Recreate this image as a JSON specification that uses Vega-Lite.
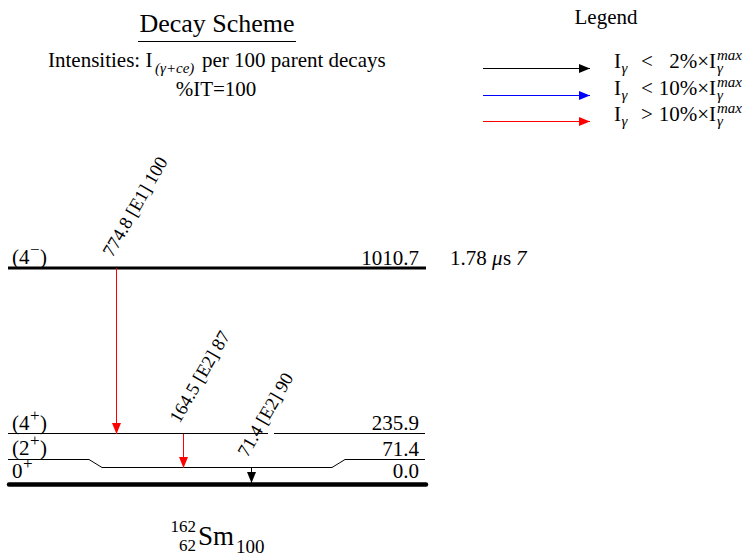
{
  "$schema": "https://vega.github.io/schema/vega-lite/v6.json",
  "width": 750,
  "height": 557,
  "autosize": {"type": "fit", "contains": "padding"},
  "padding": 0,
  "background": "white",
  "config": {"view": {"stroke": null}, "text": {"font": "Liberation Serif", "color": "black"}},
  "datasets": {
    "underline": [{"x": 138, "x2": 296, "y": 41.5}],
    "thickTop": [{"x": 8, "x2": 426, "y": 268, "level": "1010.7"}],
    "thickGround": [{"x": 9, "x2": 426, "y": 484.5, "level": "0.0"}],
    "thinLevels": [
      {"x": 8, "y": 433.5, "x2": 268, "y2": 433.5, "level": "235.9"},
      {"x": 274, "y": 433.5, "x2": 425, "y2": 433.5, "level": "235.9"},
      {"x": 8, "y": 459.5, "x2": 89, "y2": 459.5, "level": "71.4"},
      {"x": 89, "y": 459.5, "x2": 102, "y2": 467.5, "level": "71.4"},
      {"x": 102, "y": 467.5, "x2": 332, "y2": 467.5, "level": "71.4"},
      {"x": 332, "y": 467.5, "x2": 345, "y2": 459.5, "level": "71.4"},
      {"x": 345, "y": 459.5, "x2": 425, "y2": 459.5, "level": "71.4"}
    ],
    "transitions": [
      {"x": 116.5, "y": 268, "y2": 434, "cat": "strong", "label": "774.8 [E1] 100"},
      {"x": 183.5, "y": 434, "y2": 468, "cat": "strong", "label": "164.5 [E2] 87"},
      {"x": 251.5, "y": 468, "y2": 483, "cat": "weak", "label": "71.4 [E2] 90"}
    ],
    "legendArrows": [
      {"x": 483, "x2": 590, "y": 68.5, "cat": "weak"},
      {"x": 483, "x2": 590, "y": 95.5, "cat": "medium"},
      {"x": 483, "x2": 590, "y": 121.5, "cat": "strong"}
    ],
    "title": [{"x": 217, "y": 32, "t": "Decay Scheme"}],
    "leftText": [
      {"x": 48, "y": 67, "t": "Intensities: I"},
      {"x": 202, "y": 67, "t": "per 100 parent decays"},
      {"x": 12, "y": 264, "t": "(4"},
      {"x": 40, "y": 264, "t": ")"},
      {"x": 12, "y": 430, "t": "(4"},
      {"x": 40, "y": 430, "t": ")"},
      {"x": 12, "y": 455, "t": "(2"},
      {"x": 40, "y": 455, "t": ")"},
      {"x": 12, "y": 478, "t": "0"},
      {"x": 614, "y": 68, "t": "I"},
      {"x": 614, "y": 94.5, "t": "I"},
      {"x": 614, "y": 121, "t": "I"},
      {"x": 641, "y": 68, "t": "<"},
      {"x": 641, "y": 94.5, "t": "<"},
      {"x": 641, "y": 121, "t": ">"},
      {"x": 450, "y": 265, "t": "1.78"},
      {"x": 503, "y": 265, "t": "s"}
    ],
    "supText": [
      {"x": 30, "y": 255, "t": "−"},
      {"x": 30, "y": 421, "t": "+"},
      {"x": 30, "y": 446, "t": "+"},
      {"x": 23, "y": 469, "t": "+"}
    ],
    "italicSmall": [
      {"x": 155, "y": 73, "t": "(γ+ce)"},
      {"x": 621.5, "y": 73, "t": "γ"},
      {"x": 621.5, "y": 99.5, "t": "γ"},
      {"x": 621.5, "y": 126, "t": "γ"},
      {"x": 717, "y": 73, "t": "γ"},
      {"x": 717, "y": 99.5, "t": "γ"},
      {"x": 717, "y": 126, "t": "γ"},
      {"x": 717, "y": 60, "t": "max"},
      {"x": 717, "y": 86.5, "t": "max"},
      {"x": 717, "y": 113, "t": "max"}
    ],
    "italicLarge": [
      {"x": 492, "y": 265, "t": "μ"},
      {"x": 516, "y": 265, "t": "7"}
    ],
    "centerText": [
      {"x": 216, "y": 96, "t": "%IT=100"},
      {"x": 606, "y": 24, "t": "Legend"}
    ],
    "rightText": [
      {"x": 419, "y": 265, "t": "1010.7"},
      {"x": 419, "y": 430, "t": "235.9"},
      {"x": 419, "y": 456, "t": "71.4"},
      {"x": 419, "y": 478, "t": "0.0"},
      {"x": 716, "y": 68, "t": "2%×I"},
      {"x": 716, "y": 94.5, "t": "10%×I"},
      {"x": 716, "y": 121, "t": "10%×I"}
    ],
    "nuclide": [{"x": 198, "y": 545, "t": "Sm"}],
    "nuclideLeft": [
      {"x": 196, "y": 532, "t": "162"},
      {"x": 196, "y": 551, "t": "62"}
    ],
    "nuclideSub": [{"x": 236, "y": 553, "t": "100"}]
  },
  "encoding": {
    "x": {"field": "x", "type": "quantitative", "scale": {"domain": [0, 750], "nice": false, "zero": false}, "axis": null},
    "y": {"field": "y", "type": "quantitative", "scale": {"domain": [0, 557], "reverse": true, "nice": false, "zero": false}, "axis": null}
  },
  "layer": [
    {"data": {"name": "underline"}, "mark": {"type": "rule", "strokeWidth": 1, "color": "black"}, "encoding": {"x2": {"field": "x2"}}},
    {"data": {"name": "thickTop"}, "mark": {"type": "rule", "strokeWidth": 3, "color": "black"}, "encoding": {"x2": {"field": "x2"}}},
    {"data": {"name": "thickGround"}, "mark": {"type": "rule", "strokeWidth": 4.5, "color": "black", "strokeCap": "round"}, "encoding": {"x2": {"field": "x2"}}},
    {"data": {"name": "thinLevels"}, "mark": {"type": "rule", "strokeWidth": 1, "color": "black"}, "encoding": {"x2": {"field": "x2"}, "y2": {"field": "y2"}}},
    {"data": {"name": "transitions"}, "mark": {"type": "rule", "strokeWidth": 1},
     "encoding": {"y2": {"field": "y2"},
       "color": {"field": "cat", "type": "nominal", "scale": {"domain": ["weak", "medium", "strong"], "range": ["#000000", "#0000ff", "#ff0000"]}, "legend": null}}},
    {"data": {"name": "transitions"}, "mark": {"type": "point", "shape": "M-0.45,-1.1L0.45,-1.1L0,0Z", "filled": true, "size": 400, "opacity": 1, "strokeWidth": 0},
     "encoding": {"y": {"field": "y2", "type": "quantitative", "scale": {"domain": [0, 557], "reverse": true, "nice": false, "zero": false}, "axis": null},
       "color": {"field": "cat", "type": "nominal", "scale": {"domain": ["weak", "medium", "strong"], "range": ["#000000", "#0000ff", "#ff0000"]}, "legend": null}}},
    {"data": {"name": "transitions"}, "mark": {"type": "text", "angle": 300, "align": "left", "baseline": "alphabetic", "fontSize": 18.5, "xOffset": -4, "yOffset": -10},
     "encoding": {"text": {"field": "label"}}},
    {"data": {"name": "legendArrows"}, "mark": {"type": "rule", "strokeWidth": 1},
     "encoding": {"x2": {"field": "x2"},
       "color": {"field": "cat", "type": "nominal", "scale": {"domain": ["weak", "medium", "strong"], "range": ["#000000", "#0000ff", "#ff0000"]}, "legend": null}}},
    {"data": {"name": "legendArrows"}, "mark": {"type": "point", "shape": "M-1.1,-0.45L-1.1,0.45L0,0Z", "filled": true, "size": 400, "opacity": 1, "strokeWidth": 0},
     "encoding": {"x": {"field": "x2", "type": "quantitative", "scale": {"domain": [0, 750], "nice": false, "zero": false}, "axis": null},
       "color": {"field": "cat", "type": "nominal", "scale": {"domain": ["weak", "medium", "strong"], "range": ["#000000", "#0000ff", "#ff0000"]}, "legend": null}}},
    {"data": {"name": "title"}, "mark": {"type": "text", "align": "center", "baseline": "alphabetic", "fontSize": 26}, "encoding": {"text": {"field": "t"}}},
    {"data": {"name": "leftText"}, "mark": {"type": "text", "align": "left", "baseline": "alphabetic", "fontSize": 21}, "encoding": {"text": {"field": "t"}}},
    {"data": {"name": "supText"}, "mark": {"type": "text", "align": "left", "baseline": "alphabetic", "fontSize": 17}, "encoding": {"text": {"field": "t"}}},
    {"data": {"name": "italicSmall"}, "mark": {"type": "text", "align": "left", "baseline": "alphabetic", "fontSize": 15, "fontStyle": "italic"}, "encoding": {"text": {"field": "t"}}},
    {"data": {"name": "italicLarge"}, "mark": {"type": "text", "align": "left", "baseline": "alphabetic", "fontSize": 21, "fontStyle": "italic"}, "encoding": {"text": {"field": "t"}}},
    {"data": {"name": "centerText"}, "mark": {"type": "text", "align": "center", "baseline": "alphabetic", "fontSize": 21}, "encoding": {"text": {"field": "t"}}},
    {"data": {"name": "rightText"}, "mark": {"type": "text", "align": "right", "baseline": "alphabetic", "fontSize": 21}, "encoding": {"text": {"field": "t"}}},
    {"data": {"name": "nuclide"}, "mark": {"type": "text", "align": "left", "baseline": "alphabetic", "fontSize": 27}, "encoding": {"text": {"field": "t"}}},
    {"data": {"name": "nuclideLeft"}, "mark": {"type": "text", "align": "right", "baseline": "alphabetic", "fontSize": 17}, "encoding": {"text": {"field": "t"}}},
    {"data": {"name": "nuclideSub"}, "mark": {"type": "text", "align": "left", "baseline": "alphabetic", "fontSize": 19}, "encoding": {"text": {"field": "t"}}}
  ]
}
